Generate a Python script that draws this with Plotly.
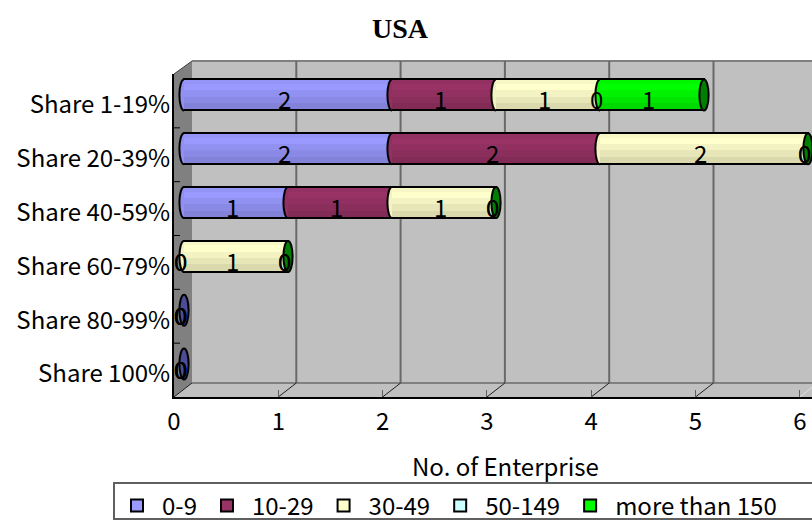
import plotly.graph_objects as go

# Enterprises by foreign-capital share band, split by employee count
categories = ["Share 1-19%", "Share 20-39%", "Share 40-59%", "Share 60-79%", "Share 80-99%", "Share 100%"]
size_0_9 = [2, 2, 1, 0, 0, 0]
size_10_29 = [1, 2, 1, 0, 0, 0]
size_30_49 = [1, 2, 1, 1, 0, 0]
size_50_149 = [0, 0, 0, 0, 0, 0]
size_150_up = [1, 0, 0, 0, 0, 0]
series_names = ["0-9", "10-29", "30-49", "50-149", "more than 150"]
series_values = [size_0_9, size_10_29, size_30_49, size_50_149, size_150_up]
series_rgb = [(153, 153, 255), (153, 51, 102), (255, 255, 204), (204, 255, 255), (0, 255, 0)]
x_ticks = [0, 1, 2, 3, 4, 5, 6]

W, H = 812, 521
FONT = "Noto Sans CJK JP"
UNIT_FRONT = 104.3   # px per enterprise on the front plane
UNIT_BAR = 104.0     # px per enterprise on the cylinder plane
BAR_ZERO = 184       # px position of zero for the cylinders
LEFT, BACK_LEFT = 174, 192
TOP_F, BOT_F = 74, 397
TOP_B, BOT_B = 61, 383
ROW_PX = (BOT_F - TOP_F) / 6
BAR_SHIFT = 6 / ROW_PX     # cylinders sit a little behind the front plane
LABEL_SHIFT = 4 / ROW_PX   # category labels sit a little below the row centre
RADIUS_X = 4.6 / UNIT_BAR
BAR_H = 31 / ROW_PX
RADIUS_Y = BAR_H / 2


def px(v):
    return v / W


def py(v):
    return 1 - v / H


def tint(rgb, f):
    return "rgb(%d,%d,%d)" % tuple(min(255, round(c * f)) for c in rgb)


def poly(points):
    return "M" + "L".join(f"{px(a):.5f},{py(b):.5f}" for a, b in points) + "Z"


shapes = []
wall = dict(xref="paper", yref="paper", layer="below")
# back wall, floor and side wall of the box
shapes.append(dict(type="path", path=poly([(BACK_LEFT, TOP_B), (W, TOP_B), (W, BOT_B), (BACK_LEFT, BOT_B)]),
                   fillcolor="#c0c0c0", line=dict(width=0), **wall))
shapes.append(dict(type="path", path=poly([(LEFT, BOT_F), (BACK_LEFT, BOT_B), (W, BOT_B), (W, BOT_F)]),
                   fillcolor="#c0c0c0", line=dict(width=0), **wall))
shapes.append(dict(type="path", path=poly([(LEFT, TOP_F), (BACK_LEFT, TOP_B), (BACK_LEFT, BOT_B), (LEFT, BOT_F)]),
                   fillcolor="#808080", line=dict(width=0), **wall))
shapes.append(dict(type="line", x0=px(BACK_LEFT), x1=1, y0=py(TOP_B), y1=py(TOP_B), line=dict(color="#808080", width=2), **wall))
shapes.append(dict(type="line", x0=px(BACK_LEFT), x1=1, y0=py(BOT_B), y1=py(BOT_B), line=dict(color="#808080", width=2), **wall))
shapes.append(dict(type="line", x0=px(LEFT), x1=px(BACK_LEFT), y0=py(TOP_F), y1=py(TOP_B), line=dict(color="#404040", width=1), **wall))
# grid lines on the back wall running down to the floor edge
for t in x_ticks:
    gx = BACK_LEFT + t * UNIT_FRONT
    fx = LEFT + t * UNIT_FRONT
    if t > 0 and gx < W:
        shapes.append(dict(type="line", x0=px(gx), x1=px(gx), y0=py(TOP_B), y1=py(BOT_B), line=dict(color="#696969", width=2), **wall))
    shapes.append(dict(type="line", x0=px(fx), x1=px(gx), y0=py(BOT_F), y1=py(BOT_B),
                       line=dict(color="#202020" if t < 6 else "#e0e0e0", width=1), **wall))
# short ticks between the category rows
for k in range(1, len(categories)):
    ty = TOP_F + k * ROW_PX
    shapes.append(dict(type="line", x0=px(LEFT), x1=px(LEFT + 6), y0=py(ty), y1=py(ty),
                       line=dict(color="black", width=1), **wall))

fig = go.Figure()

# Invisible trace that gives the front axes their categories and value scale
fig.add_trace(go.Scatter(x=[0] * len(categories), y=categories, mode="none", showlegend=False, hoverinfo="skip"))

rows = list(range(len(categories)))
band_share = [0.12, 0.22, 0.22, 0.22, 0.22]
band_tone = [0.97, 1.0, 0.95, 0.90, 0.85]

cum = [0] * len(rows)
starts = []
for values in series_values:
    starts.append(cum[:])
    cum = [c + v for c, v in zip(cum, values)]
totals = cum

for name, values, base, rgb in zip(series_names, series_values, starts, series_rgb):
    fig.add_trace(go.Bar(
        x=values, y=rows, base=base, orientation="h", name=name,
        width=BAR_H, marker=dict(color=tint(rgb, 1), line=dict(color="black", width=2)),
        xaxis="x2", yaxis="y2", hoverinfo="skip", legendgroup=name))

for values, base, rgb in zip(series_values, starts, series_rgb):
    top = -BAR_H / 2 + 0.02
    inner = BAR_H - 0.04
    for share, tone in zip(band_share, band_tone):
        fig.add_trace(go.Bar(
            x=values, y=rows, base=base, orientation="h", showlegend=False,
            width=inner * share, offset=top,
            marker=dict(color=tint(rgb, tone), line=dict(width=0)),
            xaxis="x2", yaxis="y2", hoverinfo="skip"))
        top += inner * share

K = 0.55
annotations = []
axis_ref = dict(xref="x2", yref="y2")
for values, base, rgb in zip(series_values, starts, series_rgb):
    for r, v, b in zip(rows, values, base):
        if v > 0:
            # rounded left end of each cylinder segment: fill first, then the stroke
            t, m, u = r - RADIUS_Y, r, r + RADIUS_Y
            arc = (f"M{b},{t} C{b - K * RADIUS_X},{t} {b - RADIUS_X},{m - K * RADIUS_Y} {b - RADIUS_X},{m} "
                   f"C{b - RADIUS_X},{m + K * RADIUS_Y} {b - K * RADIUS_X},{u} {b},{u}")
            shapes.append(dict(type="path", path=arc + " Z", fillcolor=tint(rgb, 0.95),
                               line=dict(width=0), layer="above", **axis_ref))
            shapes.append(dict(type="path", path=arc, line=dict(color="black", width=2),
                               layer="above", **axis_ref))

# End caps: dark green on stacked rows, dark blue on the empty ones
for r, total in zip(rows, totals):
    fill = "#007f00" if total > 0 else "#4c4c99"
    shapes.append(dict(type="circle", x0=total - RADIUS_X, x1=total + RADIUS_X,
                       y0=r - RADIUS_Y, y1=r + RADIUS_Y, fillcolor=fill,
                       line=dict(color="black", width=2), layer="above", **axis_ref))

# Value labels sit at the middle of every segment
for values, base in zip(series_values, starts):
    for r, v, b in zip(rows, values, base):
        annotations.append(dict(x=b + v / 2, y=r, text=str(v), showarrow=False, xshift=-4, yshift=-4,
                                font=dict(family=FONT, size=24, color="black"), **axis_ref))

annotations.append(dict(x=px(506), y=py(465), xref="paper", yref="paper", text="No. of Enterprise",
                        xanchor="center", yanchor="middle", showarrow=False,
                        font=dict(family=FONT, size=24, color="black")))

# Frame behind the legend entries, running off the right edge
shapes.append(dict(type="rect", xref="paper", yref="paper", x0=px(114), x1=px(W + 4), y0=py(483), y1=py(519),
                   fillcolor="white", line=dict(color="#606060", width=2), layer="above"))

bar_left_margin = (BAR_ZERO - LEFT) / UNIT_BAR
fig.update_layout(
    width=W, height=H, autosize=False,
    margin=dict(l=0, r=0, t=0, b=0, pad=0, autoexpand=False),
    paper_bgcolor="white", plot_bgcolor="rgba(0,0,0,0)",
    barmode="overlay", bargap=0,
    font=dict(family=FONT, size=24, color="black"),
    title=dict(text="<b>USA</b>", x=px(400), y=py(28), xref="paper", yref="container",
               xanchor="center", yanchor="middle",
               font=dict(family="Liberation Serif", size=28, color="black")),
    xaxis=dict(domain=[px(LEFT), 1], range=[0, (W - LEFT) / UNIT_FRONT], tickvals=x_ticks,
               showgrid=False, zeroline=False, showline=True, linecolor="black", linewidth=2,
               ticks="inside", ticklen=7, tickcolor="#606060", tickwidth=1, anchor="y",
               tickfont=dict(family=FONT, size=24), ticklabelstandoff=2),
    yaxis=dict(domain=[py(BOT_F), py(TOP_F)], type="category", categoryorder="array",
               categoryarray=categories, autorange=False,
               range=[5.5 - LABEL_SHIFT, -0.5 - LABEL_SHIFT],
               showgrid=False, zeroline=False, showline=True, linecolor="black", linewidth=2,
               ticks="", anchor="x", tickfont=dict(family=FONT, size=24), ticklabelstandoff=-3),
    xaxis2=dict(domain=[px(LEFT), 1], range=[-bar_left_margin, (W - BAR_ZERO) / UNIT_BAR],
                overlaying="x", visible=False, anchor="y2"),
    yaxis2=dict(domain=[py(BOT_F), py(TOP_F)], range=[5.5 + BAR_SHIFT, -0.5 + BAR_SHIFT],
                overlaying="y", visible=False, anchor="x2", type="linear"),
    showlegend=True,
    legend=dict(orientation="h", x=px(112), y=py(506), xanchor="left", yanchor="middle",
                bgcolor="rgba(0,0,0,0)", borderwidth=0, itemwidth=40,
                font=dict(family=FONT, size=24), traceorder="normal", itemclick=False),
    shapes=shapes, annotations=annotations,
)

fig.write_html("out.html", config=dict(displayModeBar=False))
